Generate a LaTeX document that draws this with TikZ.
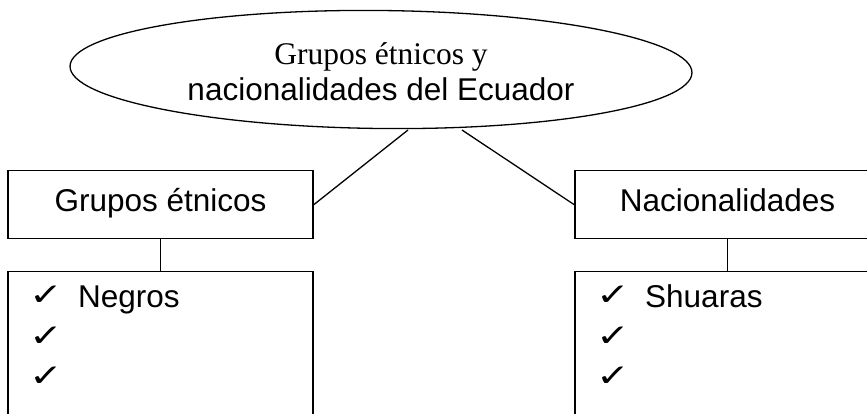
\documentclass[tikz,border=0pt]{standalone}
\usepackage{fontspec}
\setmainfont{Liberation Sans}
\newfontfamily\tnrfont{Liberation Serif}
\newfontfamily\chkfont{DejaVu Sans}
\usetikzlibrary{shapes.geometric,calc}
\newcommand{\chkmark}{\scalebox{1.3}[1]{✓}}
\begin{document}
\begin{tikzpicture}[x=1pt,y=-1pt,
  box/.style={draw,line width=1.5pt,rectangle,inner sep=0pt,minimum width=305pt},
  link/.style={line width=1.3pt},
  lbl/.style={font=\fontsize{31.5}{36}\selectfont, text height=22pt, text depth=8pt},
  chk/.style={font=\chkfont\fontsize{31}{33}\selectfont, anchor=base west, inner sep=0pt},
  item/.style={font=\fontsize{31.5}{36}\selectfont, anchor=base west, inner sep=0pt},
  ttl/.style={anchor=base, inner sep=0pt}]
\useasboundingbox (0,0) rectangle (867,413);
\clip (0,0) rectangle (867,413);
\fill[white] (0,0) rectangle (867,413);
% title ellipse
\node[draw, ellipse, line width=1.3pt, minimum width=622pt, minimum height=118pt, inner sep=0pt, rotate=-0.6] (title) at (381,69.5) {};
\node[ttl, font=\tnrfont\fontsize{31.5}{36}\selectfont] (t1) at (381,64) {Grupos étnicos y};
\node[ttl, font=\fontsize{31.5}{36}\selectfont] (t2) at (381,100) {nacionalidades del Ecuador};
% upper boxes
\node[box, lbl, minimum height=68pt] (ge) at (160.5,204.7) {Grupos étnicos};
\node[box, lbl, minimum height=68pt] (na) at (727.5,204.7) {Nacionalidades};
% lower boxes
\node[box, minimum height=170pt, anchor=north] (gl) at (160.5,270.7) {};
\node[box, minimum height=170pt, anchor=north] (nl) at (727.5,270.7) {};
% items left
\node[chk] (gc1) at (29,305) {\chkmark};
\node[item] (gi1) at (78,307) {Negros};
\node[chk] (gc2) at (29,346) {\chkmark};
\node[chk] (gc3) at (29,386) {\chkmark};
% items right
\node[chk] (nc1) at (596,305) {\chkmark};
\node[item] (ni1) at (645,307) {Shuaras};
\node[chk] (nc2) at (596,346) {\chkmark};
\node[chk] (nc3) at (596,386) {\chkmark};
% connectors
\coordinate (e1) at (408,130);
\coordinate (e2) at (462,130);
\draw[link] (e1) -- (ge.east);
\draw[link] (e2) -- (na.west);
\draw[link] (ge.south) -- (gl.north);
\draw[link] (na.south) -- (nl.north);
\end{tikzpicture}
\end{document}
